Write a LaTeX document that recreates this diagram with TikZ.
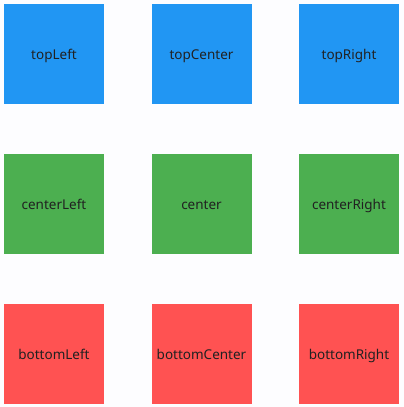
\documentclass[tikz,border=0pt]{standalone}
\usepackage{fontspec}
\setmainfont{Noto Sans}
\definecolor{bg}{HTML}{FDFDFF}
\definecolor{cblue}{HTML}{2196F3}
\definecolor{cgreen}{HTML}{4CAF50}
\definecolor{cred}{HTML}{FF5252}
\definecolor{ctext}{HTML}{212121}
\begin{document}
\begin{tikzpicture}[x=1pt,y=-1pt,
  cell/.style={minimum width=100pt,minimum height=100pt,inner sep=0pt,outer sep=0pt,
    text height=10pt,text depth=0pt,
    text=ctext,font=\fontsize{13.5}{16}\selectfont},
  bluecell/.style={cell,fill=cblue},
  greencell/.style={cell,fill=cgreen},
  redcell/.style={cell,fill=cred}]
\fill[bg] (0,0) rectangle (404,407);
\useasboundingbox (0,0) rectangle (404,407);
\node[bluecell] (tl) at (54,54) {topLeft};
\node[bluecell] (tc) at (201.5,54) {topCenter};
\node[bluecell] (tr) at (349,54) {topRight};
\node[greencell] (cl) at (54,204) {centerLeft};
\node[greencell] (cc) at (201.5,204) {center};
\node[greencell] (cr) at (349,204) {centerRight};
\node[redcell] (bl) at (54,354) {bottomLeft};
\node[redcell] (bc) at (201.5,354) {bottomCenter};
\node[redcell] (br) at (349,354) {bottomRight};
\end{tikzpicture}
\end{document}
